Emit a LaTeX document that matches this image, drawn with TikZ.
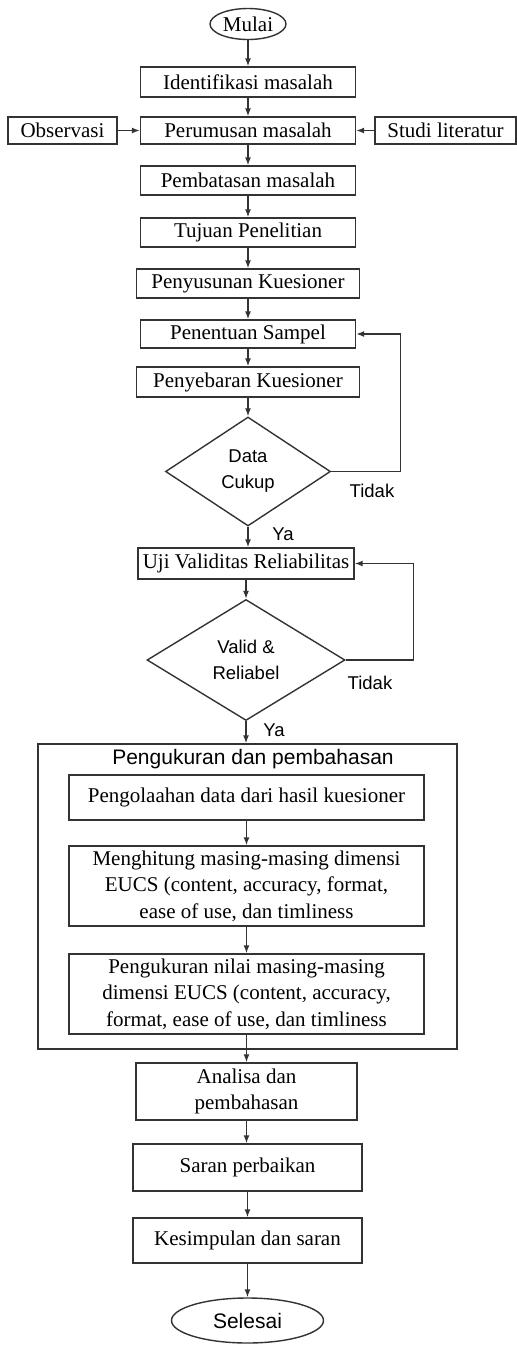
\documentclass[tikz,border=0pt]{standalone}
\usepackage{fontspec}
\setmainfont{Liberation Serif}
\setsansfont{Liberation Sans}
\usetikzlibrary{shapes.geometric,arrows.meta}

\tikzset{
  garis/.style={draw=black!80, line width=1.4pt},
  proses/.style={garis, rectangle, align=center, inner sep=0pt,
    font=\fontsize{21}{26.5}\selectfont},
  terminal/.style={garis, ellipse, inner sep=0pt},
  keputusan/.style={garis, diamond, inner sep=0pt, align=center,
    font=\sffamily\fontsize{18.5}{26}\selectfont},
  ket/.style={inner sep=0pt, font=\sffamily\fontsize{18.5}{22}\selectfont},
  panah/.style={garis, -{Latex[length=8pt,width=6pt]}},
}

\begin{document}
\begin{tikzpicture}[x=1pt,y=-1pt]
	\useasboundingbox (0,0) rectangle (517,1345);
	
	% Tahap awal
	\node[terminal, minimum width=76, minimum height=31, font=\fontsize{21}{24}\selectfont] (mulai) at (248,24) {Mulai};
	\node[proses, minimum width=215, minimum height=30] (ident) at (248,82) {Identifikasi masalah};
	\node[proses, minimum width=215, minimum height=27] (rumus) at (248,130.5) {Perumusan masalah};
	\node[proses, minimum width=109, minimum height=27] (obs) at (62.5,130.5) {Observasi};
	\node[proses, minimum width=141, minimum height=27] (studi) at (445.5,130.5) {Studi literatur};
	\node[proses, minimum width=215, minimum height=29] (batas) at (248,180.5) {Pembatasan masalah};
	\node[proses, minimum width=215, minimum height=29] (tujuan) at (248,232.5) {Tujuan Penelitian};
	\node[proses, minimum width=223, minimum height=29] (susun) at (248,283.5) {Penyusunan Kuesioner};
	\node[proses, minimum width=215, minimum height=28] (sampel) at (248,334) {Penentuan Sampel};
	\node[proses, minimum width=223, minimum height=30] (sebar) at (248,382) {Penyebaran Kuesioner};
	\node[keputusan, minimum width=165, minimum height=109] (cukup) at (248,471.5) {Data\\Cukup};
	
	% Uji instrumen
	\node[proses, minimum width=216, minimum height=31] (uji) at (246,563.5) {Uji Validitas Reliabilitas};
	\node[keputusan, minimum width=198, minimum height=121] (valid) at (246,660) {Valid \&\\Reliabel};
	
	% Pengukuran dan pembahasan
	\node[garis, rectangle, inner sep=0pt, minimum width=419, minimum height=305] (ukur) at (247.5,896.5) {};
	\node[ket, font=\sffamily\fontsize{21}{24}\selectfont] (judul) at (253,759) {Pengukuran dan pembahasan};
	\node[proses, minimum width=355, minimum height=45] (olah) at (246.5,797.5) {Pengolaahan data dari hasil kuesioner};
	\node[proses, minimum width=355, minimum height=80] (hitung) at (246.5,886) {Menghitung masing-masing dimensi\\EUCS (content, accuracy, format,\\ease of use, dan timliness};
	\node[proses, minimum width=355, minimum height=80] (nilai) at (246.5,994) {Pengukuran nilai masing-masing\\dimensi EUCS (content, accuracy,\\format, ease of use, dan timliness};
	
	% Tahap akhir
	\node[proses, minimum width=221, minimum height=57] (analisa) at (246.5,1091.5) {Analisa dan\\pembahasan};
	\node[proses, minimum width=229, minimum height=47] (saran) at (247.5,1167.5) {Saran perbaikan};
	\node[proses, minimum width=229, minimum height=45] (simpul) at (247.5,1240.5) {Kesimpulan dan saran};
	\node[terminal, minimum width=152, minimum height=45, font=\sffamily\fontsize{21}{24}\selectfont] (selesai) at (247.5,1320.5) {Selesai};
	
	% Label keputusan
	\node[ket] (tidaka) at (372,491) {Tidak};
	\node[ket] (yaa) at (283,534) {Ya};
	\node[ket] (tidakb) at (370,683) {Tidak};
	\node[ket] (yab) at (274,730) {Ya};
	
	% Alur utama
	\draw[panah] (mulai) -- (ident);
	\draw[panah] (ident) -- (rumus);
	\draw[panah] (obs) -- (rumus);
	\draw[panah] (studi) -- (rumus);
	\draw[panah] (rumus) -- (batas);
	\draw[panah] (batas) -- (tujuan);
	\draw[panah] (tujuan) -- (susun);
	\draw[panah] (susun) -- (sampel);
	\draw[panah] (sampel) -- (sebar);
	\draw[panah] (sebar) -- (cukup);
	\draw[panah] (cukup.south) -- (cukup.south |- uji.north);
	\draw[panah] (uji) -- (valid);
	\draw[panah] (valid.south) -- (valid.south |- ukur.north);
	\draw[panah] (olah) -- (hitung);
	\draw[panah] (hitung) -- (nilai);
	\draw[panah] (nilai.south) -- (nilai.south |- analisa.north);
	\draw[panah] (analisa.south) -- (analisa.south |- saran.north);
	\draw[panah] (saran) -- (simpul);
	\draw[panah] (simpul.south) -- (simpul.south |- selesai.north);
	
	% Alur balik
	\draw[panah] (cukup.east) -- ++(69,0) |- (sampel.east);
	\draw[panah] (valid.east) -- ++(68,0) |- (uji.east);

\end{tikzpicture}
\end{document}
